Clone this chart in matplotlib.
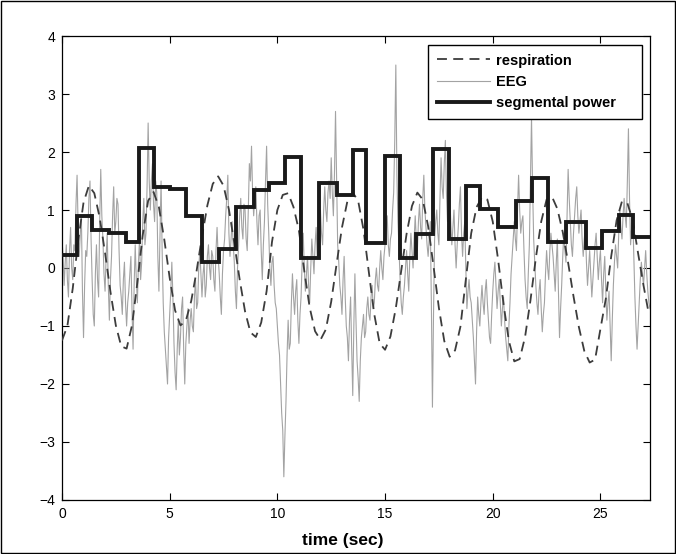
import matplotlib
matplotlib.use("Agg")
import matplotlib.pyplot as plt
import numpy as np

plt.rcParams["font.family"] = ["Liberation Sans", "DejaVu Sans"]

# respiration, sampled every 0.25 s
resp_t = np.arange(0, 27.26, 0.25)
resp = [
    -1.25, -1.00, -0.35, 0.46, 1.13, 1.42, 1.29, 0.87, 0.26, -0.41,
    -0.99, -1.35, -1.39, -0.99, -0.25, 0.57, 1.16, 1.31, 1.05, 0.49,
    -0.17, -0.73, -0.99, -0.91, -0.57, -0.05, 0.54, 1.08, 1.45, 1.58,
    1.42, 1.01, 0.43, -0.20, -0.75, -1.11, -1.19, -0.94, -0.40, 0.45,
    1.00, 1.26, 1.29, 1.05, 0.65, -0.05, -0.68, -1.09, -1.24, -1.06,
    -0.58, 0.07, 0.70, 1.15, 1.30, 1.16, 0.66, -0.08, -0.80, -1.30,
    -1.41, -1.18, -0.69, -0.05, 0.59, 1.07, 1.30, 1.18, 0.72, 0.03,
    -0.69, -1.26, -1.53, -1.42, -1.01, -0.20, 0.60, 1.05, 1.22, 1.18,
    0.80, 0.14, -0.62, -1.26, -1.61, -1.57, -1.19, -0.56, 0.17, 0.80,
    1.18, 1.23, 1.02, 0.62, 0.09, -0.49, -1.02, -1.43, -1.63, -1.58,
    -1.05, -0.53, 0.20, 0.82, 1.15, 1.12, 0.82, 0.25, -0.30, -0.80,
]

# EEG, sampled every 0.05 s (one row per second)
eeg = [
    0.5, 0.2, -0.3, 0.1, 0.4, -0.2, -0.5, 0.3, 0.7, 0.0, -0.2, 0.4, 0.3, 1.1, 1.6, 0.7, 0.2, 0.6, 0.9, -0.4,
    -1.2, -0.3, 0.3, 0.2, 0.6, 1.2, 1.5, 0.5, -0.2, -0.8, -1.0, -0.1, 0.4, -0.2, -0.5, 0.8, 1.7, 0.9, 0.5, -0.1,
    -0.4, 0.2, 0.6, -0.3, -0.9, -0.2, 0.2, 0.9, 1.4, 0.6, 0.8, 1.2, 1.1, 0.3, -0.3, -0.5, -0.8, -0.2, 0.1, -0.6,
    -1.0, -0.6, -0.4, -0.1, 0.2, -0.7, -1.4, -0.3, 0.4, -0.2, -0.6, 0.1, 0.5, -0.2, 0.1, 0.8, 1.2, 0.4, 0.6, 1.4,
    2.5, 1.5, 1.0, 1.5, 1.8, 1.1, 0.8, 1.5, 1.3, 0.2, -0.4, 0.6, 1.5, 0.3, -0.6, -1.1, -1.4, -1.7, -2.0, -1.2,
    -0.8, -0.4, 0.1, -0.5, -1.3, -1.8, -2.1, -1.4, -0.9, -1.5, -1.2, -0.7, -0.5, -1.4, -2.0, -1.3, -1.0, -0.7, -1.3, -0.9,
    -0.7, -1.0, -1.1, -0.5, -0.2, -0.7, -0.6, 0.0, 0.3, -0.1, -0.5, -0.1, 0.1, -0.5, -0.3, 0.2, 0.4, 0.0, -0.2, 0.3,
    0.2, -0.2, -0.4, 0.3, 0.7, 0.2, -0.1, -0.5, -0.8, -0.1, 0.3, 0.5, 0.9, 1.2, 1.6, 0.6, 0.2, 0.5, 0.8, 0.4,
    0.1, -0.4, -0.7, 0.0, 0.4, 0.9, 1.2, 0.7, 0.5, 1.1, 1.0, 0.5, 0.3, 1.0, 1.8, 1.5, 2.1, 1.3, 0.9, 1.2,
    1.4, 0.8, 0.4, 0.9, 1.0, 0.3, -0.2, 0.4, 0.8, 1.5, 2.1, 1.1, 0.6, 0.0, -0.3, 0.1, 0.2, -0.3, -0.6, -0.7,
    -1.0, -1.3, -1.5, -2.0, -2.5, -2.8, -3.6, -2.9, -2.3, -1.5, -0.9, -1.4, -1.3, -0.6, -0.1, -0.5, -0.8, -0.4, -0.2, -0.9,
    -1.3, -0.8, -0.5, 0.1, 0.6, 0.0, -0.4, -0.1, 0.2, -0.3, -0.6, 0.0, 0.5, 0.2, -0.1, 0.4, 0.7, 0.2, 0.3, 0.8,
    1.0, 0.6, 0.4, 1.0, 1.4, 1.0, 0.8, 1.3, 1.5, 1.2, 1.9, 1.3, 0.9, 1.6, 2.7, 1.5, 0.4, 0.1, -0.3, -0.5,
    -0.8, -0.2, 0.2, -0.5, -1.0, -1.2, -1.6, -0.9, -0.5, -1.4, -2.2, -1.0, -0.1, -0.9, -1.6, -1.9, -2.3, -1.6, -1.2, -1.0,
    -0.8, -1.2, -1.1, -0.7, -0.5, -0.8, -0.9, -0.5, -0.3, -0.7, -0.6, -0.2, 0.0, -0.3, -0.4, 0.0, 0.3, 0.0, -0.2, 0.2,
    0.4, 0.7, 0.9, 0.4, 0.2, 0.5, 0.6, 1.0, 1.3, 2.2, 3.5, 1.6, 0.8, 0.3, -0.2, -0.6, -0.8, -0.5, -0.3, 0.0,
    0.3, -0.1, -0.4, 0.2, 0.6, 0.3, 0.0, 0.5, 0.9, 0.5, 0.3, 0.8, 1.1, 0.7, 0.5, 1.2, 1.6, 1.0, 0.7, 0.4,
    0.2, 0.5, 0.8, -0.6, -2.4, -0.8, 0.5, 0.8, 1.0, 0.6, 0.4, 1.2, 1.9, 1.4, 1.2, 1.8, 2.2, 1.3, 0.8, 1.1,
    1.3, 0.8, 0.4, 0.7, 1.0, 0.4, 0.0, 0.4, 0.7, 1.1, 1.4, 0.6, 0.2, 0.6, 0.8, 0.0, -0.7, -0.4, -0.2, -0.5,
    -0.6, -0.9, -1.2, -1.6, -2.0, -1.1, -0.5, -0.8, -1.0, -0.6, -0.3, -0.6, -0.8, -0.4, -0.2, -0.6, -0.9, -1.2, -1.3, -0.8,
    -0.4, -0.1, 0.1, -0.3, -0.7, -0.4, -0.2, -0.6, -1.0, -0.7, -0.5, -0.9, -1.2, -1.4, -1.6, -1.0, -0.6, -0.1, 0.2, 0.5,
    0.8, 0.5, 0.3, 1.0, 1.6, 1.0, 0.6, 0.8, 0.9, 0.3, -0.2, -0.5, -0.7, -0.1, 0.4, 1.5, 2.6, 1.4, 0.5, 0.1,
    -0.3, -0.6, -0.8, -0.4, -0.2, -0.7, -1.1, -0.8, -0.6, -0.1, 0.3, 0.0, -0.2, 0.3, 0.6, 0.4, 0.2, -0.1, -0.4, 0.1,
    0.5, -0.4, -1.2, -0.7, -0.3, 0.2, 0.6, 0.3, 0.1, 0.9, 1.7, 1.2, 0.8, 0.4, 0.2, 0.6, 0.9, 1.2, 1.4, 0.9,
    0.6, 0.8, 1.0, 0.5, 0.2, 0.5, 0.7, 0.1, -0.3, 0.0, 0.3, -0.1, -0.5, -0.2, 0.1, 0.4, 0.6, 0.2, -0.2, 0.1,
    0.3, -0.2, -0.6, -0.1, 0.2, -0.4, -0.9, -0.6, -0.4, -1.0, -1.6, -0.9, -0.3, 0.1, 0.4, 0.2, 0.0, 0.6, 1.0, 0.7,
    0.5, 0.9, 1.2, 0.9, 0.7, 1.5, 2.4, 1.2, 0.4, 0.7, 0.9, 0.2, -0.5, -1.0, -1.4, -1.0, -0.6, -0.2, 0.1, -0.1,
    -0.3, 0.0, 0.3, -0.1, -0.4, -0.6, -0.7,
]
eeg_t = np.arange(len(eeg)) * 0.05

# segmental power: segment boundaries (sec) and level of each segment
seg_edges = [
    0, 0.71, 1.38, 2.2, 2.97, 3.59, 4.28, 5.01, 5.75, 6.52,
    7.30, 8.10, 8.9, 9.62, 10.34, 11.12, 11.93, 12.77, 13.51, 14.13,
    14.98, 15.71, 16.45, 17.22, 17.96, 18.74, 19.42, 20.24, 21.06, 21.83,
    22.56, 23.41, 24.34, 25.08, 25.85, 26.53, 27.3,
]
seg_power = [
    0.22, 0.89, 0.66, 0.61, 0.44, 2.07, 1.40, 1.37, 0.89, 0.11,
    0.32, 1.05, 1.35, 1.46, 1.91, 0.17, 1.47, 1.26, 2.03, 0.43,
    1.93, 0.17, 0.59, 2.05, 0.50, 1.42, 1.02, 0.70, 1.15, 1.56,
    0.45, 0.79, 0.34, 0.64, 0.92, 0.54,
]

fig = plt.figure(figsize=(6.76, 5.54), dpi=100)
ax = fig.add_axes([0.0917, 0.0975, 0.8698, 0.8375])

ax.plot(resp_t, resp, linestyle=(0, (5.5, 3.5)), color="#3c3c3c",
        linewidth=1.3, label="respiration", zorder=3)
ax.plot(eeg_t, eeg, color="#a3a3a3", linewidth=0.8, label="EEG", zorder=2)
ax.stairs(seg_power, seg_edges, color="#1a1a1a", linewidth=2.8,
          baseline=None, label="segmental power", zorder=4)

ax.set_xlim(0, 27.3)
ax.set_ylim(-4, 4)
ax.set_xticks([0, 5, 10, 15, 20, 25])
ax.set_yticks(range(-4, 5))
ax.tick_params(direction="in", top=True, right=True, length=5,
               labelsize=10, width=0.8, pad=5)
for s in ax.spines.values():
    s.set_linewidth(0.9)

ax.set_xlabel("time (sec)", fontsize=12.5, fontweight="bold")
ax.xaxis.set_label_coords(0.478, -0.072)

leg = ax.legend(loc="upper left", bbox_to_anchor=(0.623, 0.0, 0.363, 0.981),
                mode="expand", borderaxespad=0, fancybox=False, framealpha=1,
                edgecolor="black", handlelength=3.6, labelspacing=0.5,
                prop={"weight": "bold", "size": 10.5},
                borderpad=0.6, handletextpad=0.45)
leg.get_frame().set_linewidth(1.0)

# thin frame around the whole figure
fig.patches.append(plt.Rectangle((0.001, 0.001), 0.998, 0.997,
                                 transform=fig.transFigure, fill=False,
                                 edgecolor="black", linewidth=1.0))

fig.savefig("out.png", dpi=100)
